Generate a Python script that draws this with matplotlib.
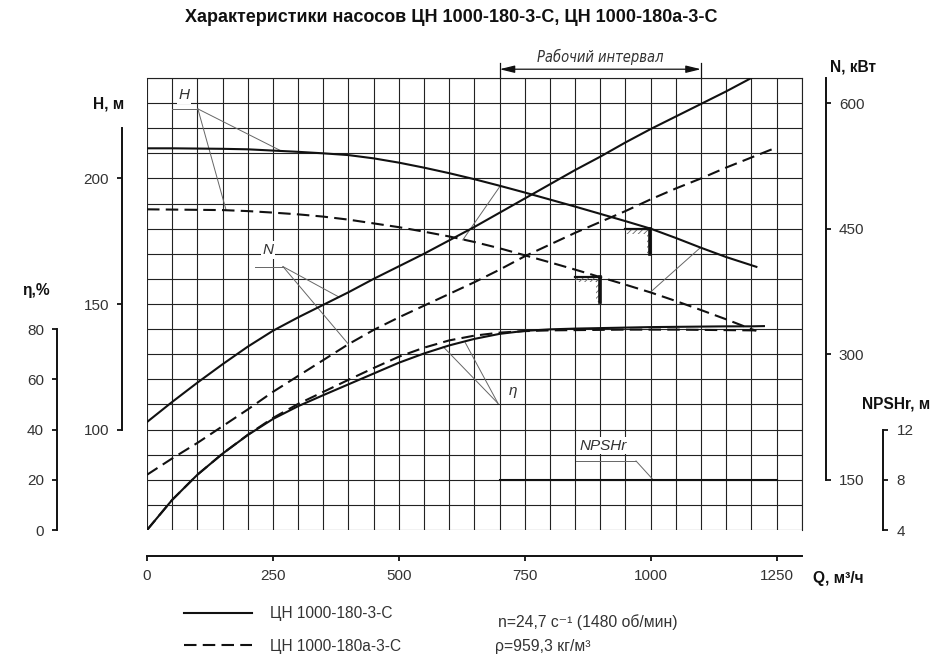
"""
Pump curves for ЦН 1000-180-3-С / ЦН 1000-180а-3-С on a single grid
with stacked H, η, N and NPSHr scales.
"""
import numpy as np
import matplotlib
matplotlib.use("Agg")
import matplotlib.pyplot as plt
from matplotlib.patches import Rectangle

plt.rcParams["font.family"] = ["Liberation Sans", "DejaVu Sans"]
plt.rcParams["lines.scale_dashes"] = False
plt.rcParams["hatch.linewidth"] = 0.6

# ── Data ──────────────────────────────────────────────────────────────────────
Q_H_A = [0, 50, 100, 150, 200, 250, 300, 350, 400, 450, 500, 550, 600, 650,
         700, 750, 800, 850, 900, 950, 1000, 1050, 1100, 1150, 1210]
H_A = [212.0, 212.0, 211.9, 211.8, 211.6, 211.1, 210.6, 210.0, 209.3, 208.0,
       206.3, 204.3, 202.1, 199.7, 197.1, 194.4, 191.6, 188.8, 185.9, 183.0,
       180.0, 176.3, 172.4, 168.7, 164.8]

Q_H_B = [0, 50, 100, 150, 200, 250, 300, 350, 400, 450, 500, 550, 600, 650,
         700, 750, 800, 850, 900, 950, 1000, 1050, 1100, 1150, 1200, 1210]
H_B = [187.7, 187.6, 187.5, 187.4, 187.0, 186.4, 185.7, 184.8, 183.6, 182.1,
       180.6, 178.8, 176.9, 174.7, 172.2, 169.4, 166.6, 163.7, 160.7, 157.7,
       154.6, 151.2, 147.6, 143.9, 140.0, 139.3]

Q_N_A = [0, 50, 100, 150, 200, 250, 300, 350, 400, 450, 500, 550, 600, 650,
         700, 750, 800, 850, 900, 950, 1000, 1050, 1100, 1150, 1200]
N_A = [219, 243, 266, 288, 309, 328, 344, 359, 374, 390, 405, 420, 436, 452,
       469, 486, 503, 520, 536, 553, 569, 584, 599, 614, 630]

Q_N_B = [0, 50, 100, 150, 200, 250, 300, 350, 400, 450, 500, 550, 600, 650,
         700, 750, 800, 850, 900, 950, 1000, 1050, 1100, 1150, 1200, 1250]
N_B = [156, 175.5, 194, 214, 234, 255, 274, 293, 312, 329, 344, 358, 372, 386,
       401, 417, 431, 445, 458, 471, 485, 498, 510, 523, 535, 547]

Q_ETA_A = [0, 50, 100, 150, 200, 250, 300, 350, 400, 450, 500, 550, 600, 650,
           700, 750, 800, 850, 900, 950, 1000, 1050, 1100, 1150, 1200, 1225]
ETA_A = [0, 12.0, 22.0, 30.4, 37.8, 44.2, 49.3, 53.7, 58.0, 62.3, 66.6, 70.3,
         73.5, 76.1, 78.1, 79.3, 79.9, 80.2, 80.4, 80.6, 80.8, 80.9, 81.0,
         81.1, 81.1, 81.2]

Q_ETA_B = [0, 50, 100, 150, 200, 250, 300, 350, 400, 450, 500, 550, 600, 650,
           700, 750, 800, 850, 900, 950, 1000, 1050, 1100, 1150, 1200, 1213]
ETA_B = [0, 12.0, 22.0, 30.4, 37.9, 44.6, 50.2, 55.0, 59.8, 64.5, 69.0, 72.6,
         75.5, 77.4, 78.6, 79.2, 79.5, 79.6, 79.7, 79.8, 79.8, 79.8, 79.7,
         79.6, 79.5, 79.5]

Q_NPSH = [700, 1250]
NPSH = [8, 8]

WORK_RANGE = [700, 1100]
# allowable-point markers (Q, H) on both head curves
MARKS = [(1000, 180.0), (900, 160.6)]

LABELS = ["ЦН 1000-180-3-С", "ЦН 1000-180а-3-С"]
Q_TICKS = [0, 250, 500, 750, 1000, 1250]
H_TICKS = [100, 150, 200]
ETA_TICKS = [0, 20, 40, 60, 80]
N_TICKS = [150, 300, 450, 600]
NPSH_TICKS = [4, 8, 12]

# ── Styles ────────────────────────────────────────────────────────────────────
W, H = 939, 662
INK = "#111111"
TICK_COL = "#333333"
LEAD_COL = "#666666"
GRID_COL = "#222222"
CURVE_LW = 1.5
DASH = (9, 4.5)
TICK_FS = 11


def fx(x):
    return x / W


def fy(y):
    return 1 - y / H


fig = plt.figure(figsize=(W / 100, H / 100), dpi=100)
fig.patch.set_facecolor("white")

# grid box: Q 0..1300, H 60..240
ax = fig.add_axes([fx(147), fy(530), (801.7 - 147) / W, (530 - 78) / H])
ax.set_xlim(0, 1300)
ax.set_ylim(60, 240)
ax.set_xticks(Q_TICKS)
ax.set_xticks(np.arange(0, 1301, 50), minor=True)
ax.set_yticks(H_TICKS)
ax.set_yticks(np.arange(60, 241, 10), minor=True)
ax.grid(which="both", color=GRID_COL, lw=0.8)
ax.set_axisbelow(True)
ax.tick_params(which="minor", length=0)
ax.tick_params(which="major", direction="out", length=3.5, width=1.3,
               labelsize=TICK_FS, labelcolor=TICK_COL, pad=6, color=INK)
for s in ["top", "right"]:
    ax.spines[s].set_linewidth(0.8)
    ax.spines[s].set_color(GRID_COL)
ax.spines["left"].set_position(("outward", 24.7 * 0.72))
ax.spines["left"].set_bounds(100, 220)
ax.spines["bottom"].set_position(("outward", 25.5 * 0.72))
ax.spines["bottom"].set_bounds(0, 1300)
for s in ["left", "bottom"]:
    ax.spines[s].set_linewidth(1.4)
    ax.spines[s].set_color(INK)


def side_axis(ylim, ticks, side, outward_px, bounds):
    a = ax.twinx()
    a.set_ylim(*ylim)
    for s in a.spines.values():
        s.set_visible(False)
    sp = a.spines[side]
    sp.set_visible(True)
    sp.set_position(("outward", outward_px * 0.72))
    sp.set_bounds(*bounds)
    sp.set_linewidth(1.4)
    sp.set_color(INK)
    a.yaxis.set_ticks_position(side)
    a.set_yticks(ticks)
    a.tick_params(axis="y", direction="out", length=3.5, width=1.3,
                  labelsize=TICK_FS, labelcolor=TICK_COL, pad=6, color=INK)
    return a


ax_eta = side_axis((0, 180), ETA_TICKS, "left", 147 - 57.3, (0, 80))
ax_n = side_axis((90, 630), N_TICKS, "right", 825.7 - 801.7, (150, 630))
ax_np = side_axis((4, 40), NPSH_TICKS, "right", 883.3 - 801.7, (4, 12))

# ── Curves ────────────────────────────────────────────────────────────────────
la, = ax.plot(Q_H_A, H_A, color=INK, lw=CURVE_LW, zorder=4)
lb, = ax.plot(Q_H_B, H_B, color=INK, lw=CURVE_LW, dashes=DASH, zorder=4)
ax_n.plot(Q_N_A, N_A, color=INK, lw=CURVE_LW, zorder=4)
ax_n.plot(Q_N_B, N_B, color=INK, lw=CURVE_LW, dashes=DASH, zorder=4)
ax_eta.plot(Q_ETA_A, ETA_A, color=INK, lw=CURVE_LW, zorder=4)
ax_eta.plot(Q_ETA_B, ETA_B, color=INK, lw=CURVE_LW, dashes=DASH, zorder=4)
ax_np.plot(Q_NPSH, NPSH, color=INK, lw=CURVE_LW, zorder=4)

# hatched allowable-point marks
for q, h in MARKS:
    ax.add_patch(Rectangle((q - 50, h - 2), 50, 2, fill=False, hatch="//////",
                           ec="#666666", lw=0, zorder=3))
    ax.add_patch(Rectangle((q - 8, h - 10), 8, 10, fill=False, hatch="//////",
                           ec="#666666", lw=0, zorder=3))
    ax.plot([q - 50, q], [h, h], color=INK, lw=1.6, zorder=5)
    ax.plot([q - 1, q - 1], [h, h - 10], color=INK, lw=2.6, zorder=5)

# ── Leaders and curve names ───────────────────────────────────────────────────
lead = dict(color=LEAD_COL, lw=0.7, zorder=3)
tag = dict(fontsize=11, style="italic", color="#333333", ha="center",
           va="center", zorder=6,
           bbox=dict(boxstyle="square,pad=0.1", fc="white", ec="none"))

ax.plot([50, 101], [227.7, 227.7], **lead)
ax.plot([101, 265], [227.7, 211.1], **lead)
ax.plot([101, 157], [227.7, 187.4], **lead)
ax.text(73, 233.2, "H", **tag)

ax.plot([999, 1098], [154.6, 172.3], **lead)
ax.plot([701, 627], [196.9, 175.5], **lead)

ax_n.plot([214, 270], [404.7, 404.7], **lead)
ax_n.plot([270, 380], [404.7, 368.7], **lead)
ax_n.plot([270, 400], [404.7, 312.0], **lead)
ax_n.text(240, 424.5, "N", **tag)

ax_eta.plot([697, 588], [50.4, 73.0], **lead)
ax_eta.plot([697, 632], [50.4, 74.6], **lead)
ax_eta.text(727, 55.5, "η", **tag)

ax_np.plot([852, 971], [9.5, 9.5], **lead)
ax_np.plot([971, 1005], [9.5, 8.0], **lead)
ax_np.text(905, 10.7, "NPSHr", **tag)

# working interval
for q in WORK_RANGE:
    ax.plot([q, q], [240, 245.9], color=INK, lw=0.9, clip_on=False)
ax.annotate("", xy=(WORK_RANGE[0], 243.5), xytext=(WORK_RANGE[1], 243.5),
            arrowprops=dict(arrowstyle="<|-|>,head_length=0.9,head_width=0.22",
                            lw=0.9, color=INK, shrinkA=0, shrinkB=0),
            annotation_clip=False)
ax.text(sum(WORK_RANGE) / 2, 248.4, "Рабочий интервал", fontsize=10.5,
        style="italic", color="#333333", ha="center", va="center",
        family=["DejaVu Sans"], fontstretch="condensed")

# ── Titles and axis names ─────────────────────────────────────────────────────
fig.text(fx(451), fy(18), "Характеристики насосов ЦН 1000-180-3-С, ЦН 1000-180а-3-С",
         fontsize=13, fontweight="bold", ha="center", va="center", color=INK)
bold = dict(fontsize=11.2, fontweight="bold", va="center", color=INK)
fig.text(fx(92.7), fy(104.3), "H, м", ha="left", **bold)
fig.text(fx(21.7), fy(290), "η,%", ha="left", **bold)
fig.text(fx(830), fy(67.3), "N, кВт", ha="left", **bold)
fig.text(fx(862), fy(404), "NPSHr, м", ha="left", **bold)
fig.text(fx(813.3), fy(578), "Q, м³/ч", ha="left", **bold)

note = dict(fontsize=11.3, color=TICK_COL, ha="left", va="center")
fig.text(fx(498), fy(622), "n=24,7 с⁻¹ (1480 об/мин)", **note)
fig.text(fx(495), fy(647), "ρ=959,3 кг/м³", **note)

fig.legend([la, lb], LABELS, loc="upper left",
           bbox_to_anchor=(fx(184), fy(606)), frameon=False,
           fontsize=11.2, handlelength=4.4, handletextpad=1.15,
           labelspacing=1.15, borderpad=0, borderaxespad=0,
           labelcolor=TICK_COL)

fig.savefig("out.png", dpi=100, facecolor="white")
plt.close(fig)
